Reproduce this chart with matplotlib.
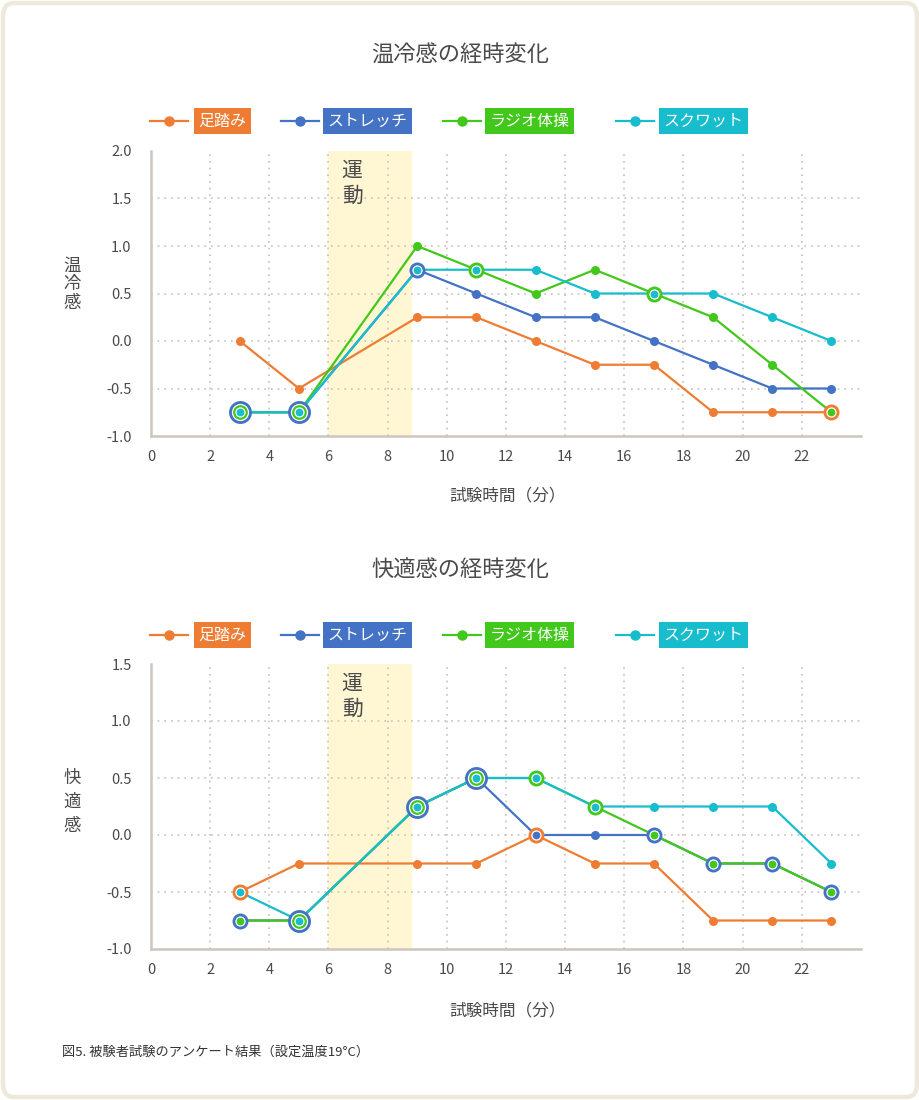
import numpy as np
import matplotlib
matplotlib.use('Agg')
import matplotlib.pyplot as plt
from matplotlib.patches import FancyBboxPatch
from matplotlib.lines import Line2D

plt.rcParams['font.family'] = ['Noto Sans CJK JP', 'DejaVu Sans']

# data
minutes = [3, 5, 9, 11, 13, 15, 17, 19, 21, 23]
series_names = ['足踏み', 'ストレッチ', 'ラジオ体操', 'スクワット']
series_colors = ['#ee7d33', '#4472c4', '#42c71b', '#17bdcc']

warm_ashibumi = [0, -0.5, 0.25, 0.25, 0, -0.25, -0.25, -0.75, -0.75, -0.75]
warm_stretch = [-0.75, -0.75, 0.75, 0.5, 0.25, 0.25, 0, -0.25, -0.5, -0.5]
warm_radio = [-0.75, -0.75, 1.0, 0.75, 0.5, 0.75, 0.5, 0.25, -0.25, -0.75]
warm_squat = [-0.75, -0.75, 0.75, 0.75, 0.75, 0.5, 0.5, 0.5, 0.25, 0]

comfort_ashibumi = [-0.5, -0.25, -0.25, -0.25, 0, -0.25, -0.25, -0.75, -0.75, -0.75]
comfort_stretch = [-0.75, -0.75, 0.25, 0.5, 0, 0, 0, -0.25, -0.25, -0.5]
comfort_radio = [-0.75, -0.75, 0.25, 0.5, 0.5, 0.25, 0, -0.25, -0.25, -0.5]
comfort_squat = [-0.5, -0.75, 0.25, 0.5, 0.5, 0.25, 0.25, 0.25, 0.25, -0.25]

exercise_span = (6, 8.8)
x_ticks = list(range(0, 23, 2))

W, H = 920, 1100
fig = plt.figure(figsize=(W / 100, H / 100), dpi=100)

# rounded beige frame
frame = FancyBboxPatch((3 / W, 3 / H), (W - 6) / W, (H - 6) / H,
                       boxstyle='round,pad=0,rounding_size=0.012',
                       transform=fig.transFigure, facecolor='white',
                       edgecolor='#efe9dc', linewidth=3.2, zorder=-10)
fig.patches.append(frame)

text_col = '#4a4a4a'
grid_col = '#c9c0ba'
spine_col = '#cdc5bf'


def px(x, y):
    return x / W, 1 - y / H


def draw_legend(y):
    line_x = [150, 281, 443, 616]
    box_x = [194, 323, 485, 659]
    for name, col, lx, bx in zip(series_names, series_colors, line_x, box_x):
        x0, yy = px(lx, y)
        x1, _ = px(lx + 38, y)
        fig.add_artist(Line2D([x0, x1], [yy, yy], color=col, lw=1.6,
                              transform=fig.transFigure))
        fig.add_artist(Line2D([(x0 + x1) / 2], [yy], color=col, marker='o',
                              markersize=6.5, transform=fig.transFigure))
        fig.text(px(bx, y)[0] + 0.005, yy, name, color='white', fontsize=11.5,
                 va='center', ha='left',
                 bbox=dict(boxstyle='square,pad=0.28', fc=col, ec='none'))


def draw_chart(rect, title, title_y, legend_y, ylab, ylab_y, ylab_ls,
               ylim, yticks, values, xlab_y):
    ax = fig.add_axes(rect)
    ax.set_xlim(0, 24)
    ax.set_ylim(*ylim)
    ax.patch.set_alpha(0)
    for s in ['top', 'right']:
        ax.spines[s].set_visible(False)
    for s in ['left', 'bottom']:
        ax.spines[s].set_color(spine_col)
        ax.spines[s].set_linewidth(1.8)

    ax.axvspan(*exercise_span, color='#fff7d4', zorder=0)
    for xv in x_ticks[1:]:
        ax.axvline(xv, color=grid_col, lw=1.2, ls=(0, (1, 3)), zorder=1)
    for yv in yticks[1:-1]:
        ax.axhline(yv, color=grid_col, lw=1.2, ls=(0, (1, 3)), zorder=1)

    ax.set_xticks(x_ticks)
    ax.set_xticklabels([str(v) for v in x_ticks])
    ax.set_yticks(yticks)
    ax.set_yticklabels([f'{v:.1f}' for v in yticks])
    ax.tick_params(length=0, labelsize=10.5, colors=text_col)
    ax.tick_params(axis='x', pad=10)
    ax.tick_params(axis='y', pad=14)

    # lines
    for i, (vals, col) in enumerate(zip(values, series_colors)):
        ax.plot(minutes, vals, color=col, lw=1.6, zorder=3 + i * 0.1)

    # markers: overlapping points become concentric rings
    base, step = 6.5, 5.0
    for i, (vals, col) in enumerate(zip(values, series_colors)):
        for j, (xv, yv) in enumerate(zip(minutes, vals)):
            later = sum(1 for k in range(i + 1, len(values)) if values[k][j] == yv)
            earlier = any(values[k][j] == yv for k in range(i))
            ms = base + step * later
            ax.plot([xv], [yv], marker='o', color=col, markersize=ms,
                    markeredgecolor='white' if earlier else col,
                    markeredgewidth=0.9 if earlier else 0, zorder=5 + i)

    ax.text(6.8, 0.97, '運\n動', transform=ax.get_xaxis_transform(),
            ha='center', va='top', fontsize=15, color=text_col,
            linespacing=1.2, zorder=2)

    fig.text(0.5, 1 - title_y / H, title, ha='center', va='center',
             fontsize=16, color=text_col)
    fig.text(72 / W, 1 - ylab_y / H, ylab, ha='center', va='center',
             fontsize=12.5, color=text_col, linespacing=ylab_ls)
    fig.text(508 / W, 1 - xlab_y / H, '試験時間（分）', ha='center',
             va='center', fontsize=12, color=text_col)
    draw_legend(legend_y)
    return ax


ax1 = draw_chart([151 / W, 1 - 436 / H, 710 / W, 285 / H], '温冷感の経時変化',
                 55, 121, '温\n冷\n感', 284, 1.05, (-1.0, 2.0),
                 [-1.0, -0.5, 0.0, 0.5, 1.0, 1.5, 2.0],
                 [warm_ashibumi, warm_stretch, warm_radio, warm_squat], 496)

ax2 = draw_chart([151 / W, 1 - 949 / H, 710 / W, 285 / H], '快適感の経時変化',
                 570, 635, '快\n適\n感', 802, 1.4, (-1.0, 1.5),
                 [-1.0, -0.5, 0.0, 0.5, 1.0, 1.5],
                 [comfort_ashibumi, comfort_stretch, comfort_radio, comfort_squat], 1011)

fig.text(62 / W, 1 - 1052 / H, '図5. 被験者試験のアンケート結果（設定温度19°C）',
         ha='left', va='center', fontsize=9.5, color='#333333')

fig.savefig('out.png', dpi=100)
